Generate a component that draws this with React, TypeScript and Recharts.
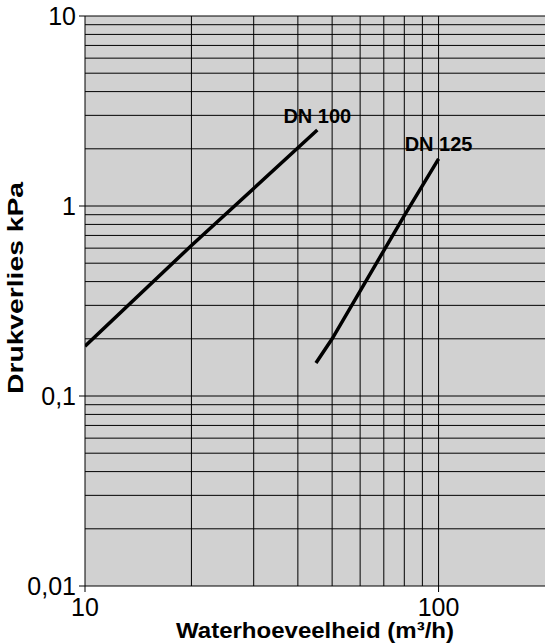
import React from 'react';
import { LineChart, Line, XAxis, YAxis, CartesianGrid, ReferenceLine, ReferenceDot, Label } from 'recharts';

const xTicks = [10, 100];
const yTicks = [0.01, 0.1, 1, 10];
const xGridValues = [20, 30, 40, 50, 60, 70, 80, 90, 100];
const yGridValues = [
  0.02, 0.03, 0.04, 0.05, 0.06, 0.07, 0.08, 0.09, 0.1,
  0.2, 0.3, 0.4, 0.5, 0.6, 0.7, 0.8, 0.9, 1,
  2, 3, 4, 5, 6, 7, 8, 9, 10,
];
const dn100 = [
  { q: 10, p: 0.183 },
  { q: 20, p: 0.62 },
  { q: 45.4, p: 2.51 },
];
const dn125 = [
  { q: 45, p: 0.149 },
  { q: 50, p: 0.2 },
  { q: 80, p: 0.89 },
  { q: 100, p: 1.77 },
];
const seriesLabels = ['DN 100', 'DN 125'];

const FONT = '"Liberation Sans", Arial, sans-serif';

const fmt = (v: number) => String(v).replace('.', ',');

export default function App() {
  return (
    <div style={{ position: 'absolute', left: 0, top: 0 }}>
      <LineChart width={545} height={643} margin={{ top: 16, right: 0, bottom: 0, left: 0 }}>
        <CartesianGrid fill="#d1d1d1" stroke="none" horizontal={false} vertical={false} />
        <XAxis
          type="number"
          dataKey="q"
          scale="log"
          domain={[10, 200]}
          ticks={xTicks}
          allowDataOverflow
          height={57}
          tickSize={6}
          tickMargin={6}
          stroke="#000"
          tick={{ fill: '#000', fontSize: 25, fontFamily: FONT }}
        >
          <Label
            content={(props: any) => {
              const vb = props.viewBox;
              return (
                <text
                  x={vb.x + vb.width / 2}
                  y={638}
                  textAnchor="middle"
                  fontFamily={FONT}
                  fontWeight="bold"
                  fontSize={22}
                  fill="#000"
                  textLength={278}
                  lengthAdjust="spacingAndGlyphs"
                >
                  Waterhoeveelheid (m³/h)
                </text>
              );
            }}
          />
        </XAxis>
        <YAxis
          type="number"
          scale="log"
          domain={[0.01, 10]}
          ticks={yTicks}
          allowDataOverflow
          width={85}
          tickSize={6}
          tickMargin={3}
          stroke="#000"
          tickFormatter={fmt}
          tick={{ fill: '#000', fontSize: 25, fontFamily: FONT }}
        >
          <Label
            content={() => (
              <text
                x={23}
                y={288}
                transform="rotate(-90 23 288)"
                textAnchor="middle"
                fontFamily={FONT}
                fontWeight="bold"
                fontSize={22}
                fill="#000"
                textLength={212}
                lengthAdjust="spacingAndGlyphs"
              >
                Drukverlies kPa
              </text>
            )}
          />
        </YAxis>
        {yGridValues.map((v) => (
          <ReferenceLine key={'h' + v} y={v} stroke="#000" strokeWidth={1} />
        ))}
        {xGridValues.map((v) => (
          <ReferenceLine key={'v' + v} x={v} stroke="#000" strokeWidth={1} />
        ))}
        <Line data={dn100} dataKey="p" stroke="#000" strokeWidth={3.5} dot={false} isAnimationActive={false} />
        <Line data={dn125} dataKey="p" stroke="#000" strokeWidth={3.5} dot={false} isAnimationActive={false} />
        <ReferenceDot
          x={dn100[dn100.length - 1].q}
          y={dn100[dn100.length - 1].p}
          r={0}
          stroke="none"
          label={{ value: seriesLabels[0], position: 'top', offset: 7, fontSize: 20, fontWeight: 'bold', fontFamily: FONT, fill: '#000' }}
        />
        <ReferenceDot
          x={dn125[dn125.length - 1].q}
          y={dn125[dn125.length - 1].p}
          r={0}
          stroke="none"
          label={{ value: seriesLabels[1], position: 'top', offset: 8, fontSize: 20, fontWeight: 'bold', fontFamily: FONT, fill: '#000' }}
        />
      </LineChart>
    </div>
  );
}
